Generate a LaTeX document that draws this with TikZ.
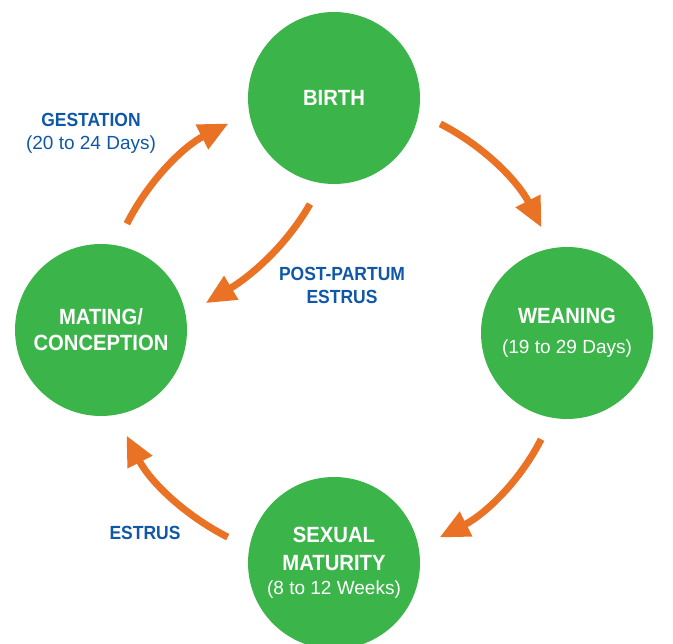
\documentclass[tikz,border=0pt]{standalone}
\usepackage{fontspec}
\setmainfont{Liberation Sans}
\newfontfamily\cndfont{Liberation Sans}[FakeStretch=0.92]
\usetikzlibrary{arrows.meta}
\definecolor{hgreen}{RGB}{59,181,74}
\definecolor{horange}{RGB}{234,114,37}
\definecolor{hblue}{RGB}{15,88,167}

\begin{document}
\begin{tikzpicture}[x=1pt,y=1pt,
  stage/.style={circle,fill=hgreen,text=white,minimum size=172pt,inner sep=0pt,align=center,
    font=\cndfont\bfseries\fontsize{22}{26}\selectfont},
  lbl/.style={text=hblue,align=center,font=\cndfont\bfseries\fontsize{19}{23}\selectfont},
  flow/.style={horange,line width=7pt,-{Triangle[length=30pt,width=26pt]},
    shorten <=24pt,shorten >=23pt}]
  \useasboundingbox (0,0) rectangle (673,-644);

  % stages of the cycle
  \node[stage] (birth) at (334,-98)  {BIRTH};
  \node[stage] (wean)  at (567,-333) {WEANING\\[4pt]{\normalfont\fontsize{19}{22}\selectfont (19 to 29 Days)}};
  \node[stage] (sex)   at (334,-563) {SEXUAL\\[2pt]MATURITY\\[-2pt]{\normalfont\fontsize{19}{22}\selectfont (8 to 12 Weeks)}};
  \node[stage] (mate)  at (101,-330) {MATING/\\CONCEPTION};

  % labels
  \node[lbl] (gest) at (91,-133)  {GESTATION\\{\normalfont\fontsize{19}{22}\selectfont (20 to 24 Days)}};
  \node[lbl] (post) at (342,-285) {POST-PARTUM\\ESTRUS};
  \node[lbl] (estr) at (145,-533) {ESTRUS};

  % arrows
  \draw[flow] (mate.80)   to[out=63,in=207]  (birth.190);
  \draw[flow] (birth.-10) to[out=-27,in=117] (wean.100);
  \draw[flow] (wean.260)  to[out=243,in=27]  (sex.10);
  \draw[flow] (sex.170)   to[out=153,in=297] (mate.280);
  \draw[flow] (birth.262) to[out=240,in=31]  (mate.10);
\end{tikzpicture}
\end{document}
